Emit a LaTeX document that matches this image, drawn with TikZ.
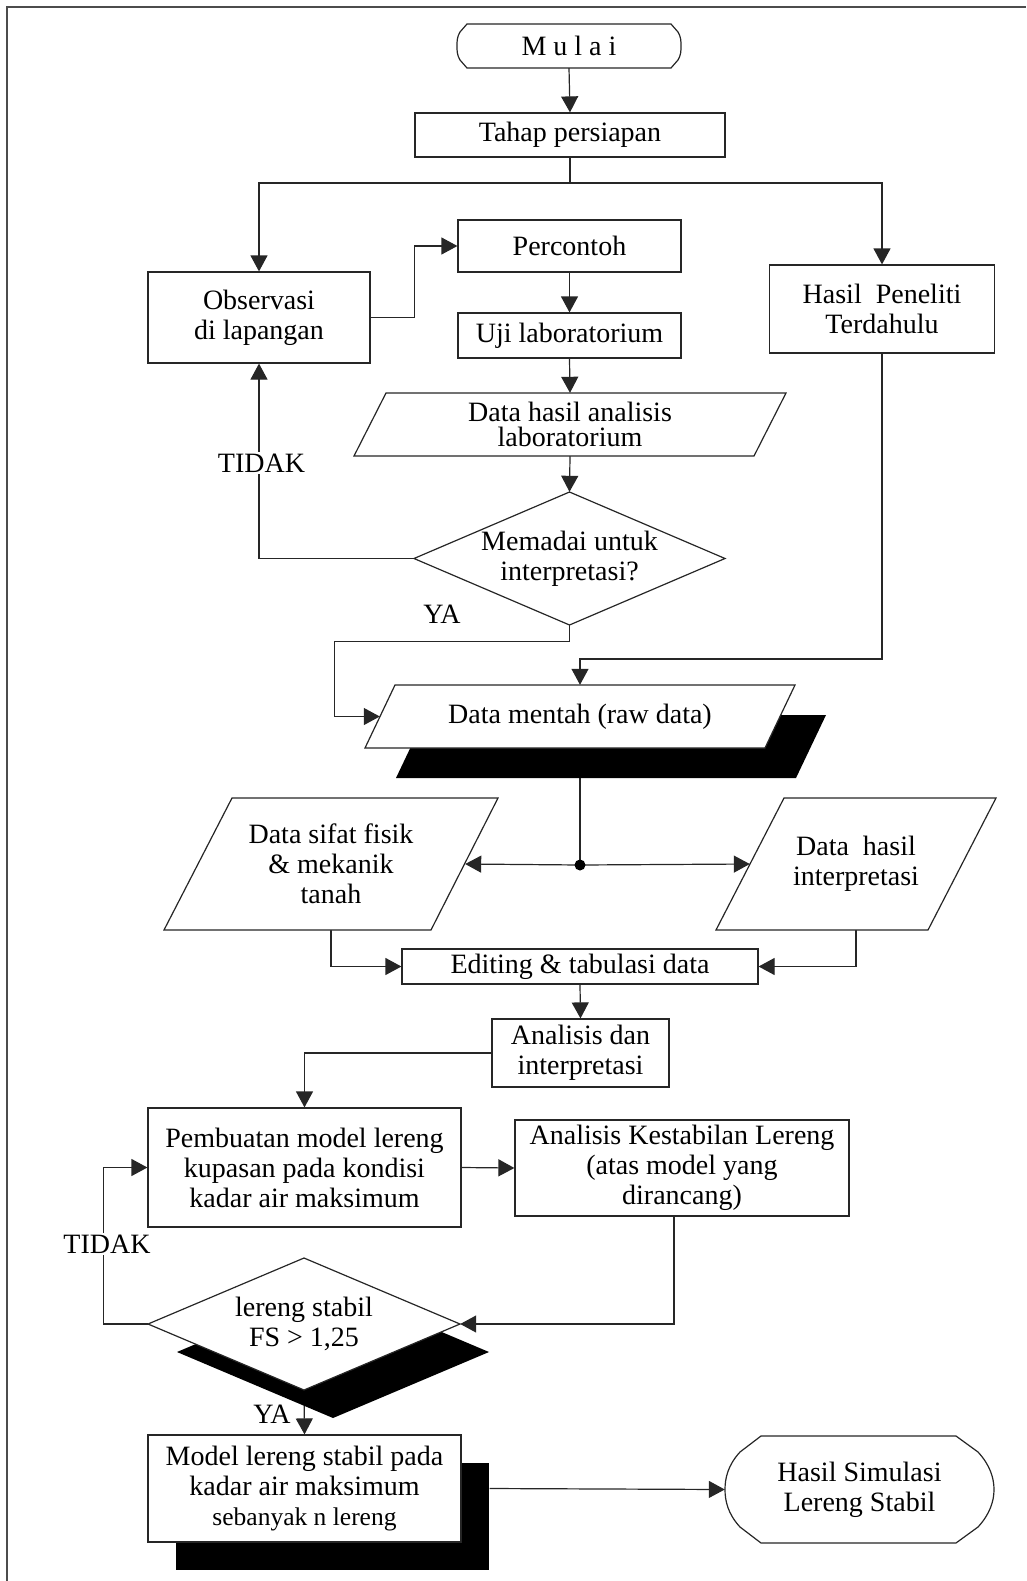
\documentclass[tikz,border=0pt]{standalone}
\usepackage{fontspec}
\setmainfont{Liberation Serif}
\usetikzlibrary{arrows.meta}
\pgfdeclarelayer{bg}
\pgfdeclarelayer{shp}
\pgfsetlayers{bg,shp,main}
\newcommand\fsz{\fontsize{28}{30}\selectfont}
\newcommand\fszt{\fontsize{28}{25}\selectfont}
\newcommand\fszs{\fontsize{25.5}{30}\selectfont}
\tikzset{
  ln/.style={draw=black!85, line width=1.2pt},
  arr/.style={ln, -{Triangle[length=16pt,width=17pt]}},
  shp/.style={draw=black!85, line width=1.2pt, fill=white},
  box/.style={draw=black!85, line width=1.2pt, fill=white, rectangle, inner sep=0pt, align=center, font=\fsz},
  plain/.style={rectangle, inner sep=0pt, align=center, font=\fsz},
  tlbl/.style={font=\fsz, inner sep=1.5pt, fill=white, anchor=base},
  ylbl/.style={font=\fsz, inner sep=0pt, anchor=base},
}
\begin{document}
\begin{tikzpicture}[x=1pt,y=-1pt]
\useasboundingbox (0,0) rectangle (1026,1581);
% frame
\draw[draw=black!70, line width=2pt] (7,1581) -- (7,7) -- (1026,7);

% ---------- shapes drawn directly ----------
\begin{pgfonlayer}{shp}
% Mulai terminator
\draw[shp] (467,24) -- (671,24) -- (678,32) .. controls (681,37) and (681,41) .. (681,46)
  .. controls (681,51) and (681,55) .. (678,60) -- (671,68) -- (467,68) -- (460,60)
  .. controls (457,55) and (457,51) .. (457,46) .. controls (457,41) and (457,37) .. (460,32) -- cycle;
% Data hasil analisis
\draw[shp] (386,393) -- (786,393) -- (754,456) -- (354,456) -- cycle;
% Memadai diamond
\draw[shp] (569.5,492) -- (725,558.5) -- (569.5,625) -- (414,558.5) -- cycle;
% Data mentah + shadow
\fill[black] (426,715) -- (826,715) -- (796,778) -- (396,778) -- cycle;
\draw[shp] (395,685) -- (795,685) -- (765,748) -- (365,748) -- cycle;
% Data sifat fisik
\draw[shp] (232,798) -- (498,798) -- (431,930) -- (164,930) -- cycle;
% Data hasil interpretasi
\draw[shp] (784,798) -- (996,798) -- (928,930) -- (716,930) -- cycle;
% lereng stabil diamond + shadow
\fill[black] (333,1286) -- (489,1352) -- (333,1418) -- (177,1352) -- cycle;
\draw[shp] (304,1258) -- (460,1324) -- (304,1390) -- (148,1324) -- cycle;
% Model shadow
\fill[black] (176,1463) rectangle (489,1570);
% Hasil Simulasi terminator
\draw[shp] (761,1436) -- (956,1436) -- (978,1452) .. controls (990,1465) and (994,1478) .. (994,1489.5)
  .. controls (994,1501) and (990,1514) .. (978,1527) -- (956,1543) -- (761,1543) -- (740,1527)
  .. controls (728,1514) and (725,1501) .. (725,1489.5) .. controls (725,1478) and (728,1465) .. (740,1452) -- cycle;
\end{pgfonlayer}

% ---------- nodes ----------
\node[plain, minimum width=224pt, minimum height=44pt] (mulai) at (569,46) {M u l a i};
\node[box, minimum width=310pt, minimum height=44pt] (tahap) at (570,135) {Tahap persiapan};
\node[box, minimum width=222pt, minimum height=91pt] (obs) at (259,317.5) {Observasi\\di lapangan};
\node[box, minimum width=223pt, minimum height=52pt] (perc) at (569.5,246) {Percontoh};
\node[box, minimum width=223pt, minimum height=45pt] (uji) at (569.5,335.5) {Uji laboratorium};
\node[box, minimum width=225pt, minimum height=88pt] (hasil) at (882,309) {Hasil\ \ Peneliti\\Terdahulu};
\node[plain, font=\fszt, minimum width=432pt, minimum height=63pt] (dha) at (570,424.5) {Data hasil analisis\\laboratorium};
\node[plain, minimum width=311pt, minimum height=133pt] (mem) at (569.5,558.5) {Memadai untuk\\interpretasi?};
\node[plain, minimum width=430pt, minimum height=63pt] (dm) at (580,716.5) {Data mentah (raw data)};
\node[plain, minimum width=334pt, minimum height=132pt] (dsf) at (331,864) {Data sifat fisik\\\& mekanik\\tanah};
\node[plain, minimum width=280pt, minimum height=132pt] (dhi) at (856,864) {Data\ \ hasil\\interpretasi};
\node[circle, fill=black, inner sep=0pt, minimum size=11pt] (junc) at (580,865) {};
\node[box, minimum width=356pt, minimum height=35pt] (edit) at (580,966.5) {Editing \& tabulasi data};
\node[box, minimum width=177pt, minimum height=68pt] (ana) at (580.5,1053) {Analisis dan\\interpretasi};
\node[box, minimum width=313pt, minimum height=119pt] (pmb) at (304.5,1167.5) {Pembuatan model lereng\\kupasan pada kondisi\\kadar air maksimum};
\node[box, minimum width=334pt, minimum height=96pt] (aks) at (682,1168) {Analisis Kestabilan Lereng\\(atas model yang\\dirancang)};
\node[plain, minimum width=312pt, minimum height=132pt] (ls) at (304,1324) {lereng stabil\\FS > 1,25};
\node[box, minimum width=313pt, minimum height=107pt] (model) at (304.5,1488.5) {Model lereng stabil pada\\kadar air maksimum\\{\fszs sebanyak n lereng}};
\node[plain, minimum width=269pt, minimum height=107pt] (hs) at (859.5,1489.5) {Hasil Simulasi\\Lereng Stabil};

% labels
\node[tlbl] (tidak1) at (261.5,472) {TIDAK};
\node[ylbl] (ya1) at (442,623) {YA};
\node[tlbl] (tidak2) at (107,1253) {TIDAK};
\node[ylbl] (ya2) at (272,1423) {YA};

% ---------- connectors ----------
\coordinate (split) at (570,183);
\coordinate (hbend) at (882,659);
\begin{pgfonlayer}{bg}
\draw[arr] (mulai.south) -- (tahap.north);
\draw[ln] (tahap.south) -- (split);
\draw[arr] (split) -| (obs.north);
\draw[arr] (split) -| (hasil.north);
\draw[arr] (obs.east) -- ++(44,0) |- (perc.west);
\draw[arr] (perc.south) -- (uji.north);
\draw[arr] (uji.south) -- (dha.north);
\draw[arr] (dha.south) -- (mem.north);
\draw[arr] (mem.west) -| (obs.south);
\draw[arr] (mem.south) -- ++(0,16) -| ([xshift=-30pt]dm.west) -- ([xshift=15pt]dm.west);
\draw[arr] (hasil.south) -- (hbend) -| (dm.north);
\draw[ln] (dm.south) -- (junc.center);
\draw[arr] (junc.center) -- ([xshift=-33pt]dsf.east);
\draw[arr] (junc.center) -- ([xshift=34pt]dhi.west);
\draw[arr] (dsf.south) |- (edit.west);
\draw[arr] (dhi.south) |- (edit.east);
\draw[arr] (edit.south) -- (ana.north);
\draw[arr] (ana.west) -| (pmb.north);
\draw[arr] (pmb.east) -- (aks.west);
\draw[arr] ([xshift=-8pt]aks.south) |- (ls.east);
\draw[arr] (ls.west) -- ++(-44,0) |- (pmb.west);
\draw[arr] (ls.south) -- (model.north);
\draw[arr] ([xshift=28pt]model.east) -- (hs.west);
\end{pgfonlayer}
\end{tikzpicture}
\end{document}
